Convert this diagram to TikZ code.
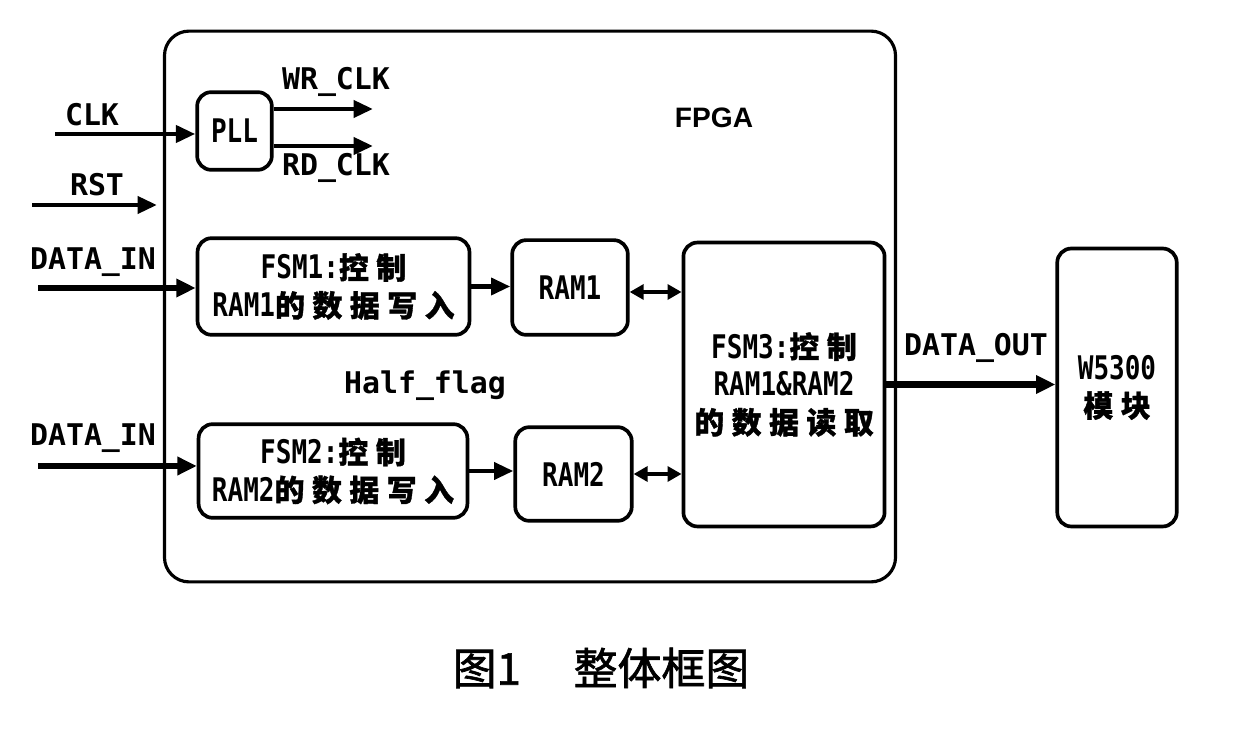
\documentclass[tikz,border=0pt]{standalone}
\usepackage{fontspec}
\setmainfont{DejaVu Sans Mono}
\newfontfamily\labf{DejaVu Sans Mono}
\newfontfamily\boxl{DejaVu Sans Mono}[FakeStretch=0.8]
\newfontfamily\cjk{Noto Sans CJK SC}[Scale=0.92,LetterSpace=25,FakeBold=1.2]
\newfontfamily\capf{Noto Sans CJK SC}[FakeBold=1.5]
\newfontfamily\sansb{Liberation Sans Bold}
\usetikzlibrary{arrows.meta}
\begin{document}
\begin{tikzpicture}[x=0.02cm,y=-0.02cm,
  box/.style={draw, line width=2.1pt, rounded corners=8pt, align=center, inner sep=0pt,
    font=\boxl\bfseries\fontsize{18.5}{21.5}\selectfont},
  outer/.style={draw, line width=1.8pt, rounded corners=14pt, inner sep=0pt},
  ar/.style={line width=2.6pt, -{Triangle[length=11pt,width=9.5pt]}},
  thick ar/.style={line width=3.8pt, -{Triangle[length=11pt,width=10pt]}},
  dar/.style={line width=2.6pt, {Triangle[length=8pt,width=8.5pt]}-{Triangle[length=8pt,width=8.5pt]}},
  lbl/.style={font=\labf\bfseries\fontsize{17}{19}\selectfont, inner sep=0pt}]
\useasboundingbox (0,0) rectangle (1242,732);
% FPGA outline
\node[outer, minimum width=416.1pt, minimum height=313.5pt] (fpga) at (530,306.5) {};
\node[font=\sansb\fontsize{16}{18}\selectfont] (fpgalbl) at (714,118) {FPGA};
% blocks
\node[box, minimum width=42.5pt, minimum height=44.2pt] (pll) at (234.5,131) {PLL};
\node[box, minimum width=154.8pt, minimum height=55pt] (fsm1) at (333.5,286.5)
  {FSM1:{\cjk 控制}\\RAM1{\cjk 的数据写入}};
\node[box, minimum width=65.8pt, minimum height=53.9pt] (ram1) at (570,287.5) {RAM1};
\node[box, minimum width=153pt, minimum height=53.3pt] (fsm2) at (333,471)
  {FSM2:{\cjk 控制}\\RAM2{\cjk 的数据写入}};
\node[box, minimum width=66.3pt, minimum height=53.3pt] (ram2) at (573.5,474) {RAM2};
\node[box, minimum width=114.5pt, minimum height=161.6pt] (fsm3) at (784,384.5)
  {FSM3:{\cjk 控制}\\RAM1\&RAM2\\{\cjk 的数据读取}};
\node[box, minimum width=68pt, minimum height=158.2pt] (w5300) at (1117,387.5)
  {W5300\\{\cjk 模块}};
% free ends
\coordinate (clkin) at (55,134);
\coordinate (wr) at (373,109);
\coordinate (rd) at (373,146);
\coordinate (rst0) at (32,205);
\coordinate (rst1) at (157,205);
\coordinate (din1) at (38,288);
\coordinate (din2) at (38,466);
\coordinate (r1) at (0,292);
\coordinate (r2) at (0,474);
% connectors
\draw[ar] (clkin) -- (clkin -| pll.west);
\draw[ar] (pll.east |- wr) -- (wr);
\draw[ar] (pll.east |- rd) -- (rd);
\draw[ar] (rst0) -- (rst1);
\draw[thick ar] (din1) -- (din1 -| fsm1.west);
\draw[thick ar] (din2) -- (din2 -| fsm2.west);
\draw[ar] (fsm1.east) -- (fsm1.east -| ram1.west);
\draw[ar] (fsm2.east) -- (fsm2.east -| ram2.west);
\draw[dar] (ram1.east |- r1) -- (fsm3.west |- r1);
\draw[dar] (ram2.east |- r2) -- (fsm3.west |- r2);
\draw[thick ar] (fsm3.east) -- (fsm3.east -| w5300.west);
% labels
\node[lbl] (lclk) at (92,115) {CLK};
\node[lbl] (lrst) at (97,185) {RST};
\node[lbl] (lwr) at (336,82) {WR\_CLK};
\node[lbl] (lrd) at (336,168) {RD\_CLK};
\node[lbl] (ldin1) at (93,262) {DATA\_IN};
\node[lbl] (ldin2) at (93,438) {DATA\_IN};
\node[lbl] (lhalf) at (425,386) {Half\_flag};
\node[lbl] (lout) at (976,348) {DATA\_OUT};
% caption
\node[font=\capf\fontsize{25}{25}\selectfont, inner sep=0pt] (cap) at (601,668)
  {图1\hspace{1.2em}整体框图};
\end{tikzpicture}
\end{document}
